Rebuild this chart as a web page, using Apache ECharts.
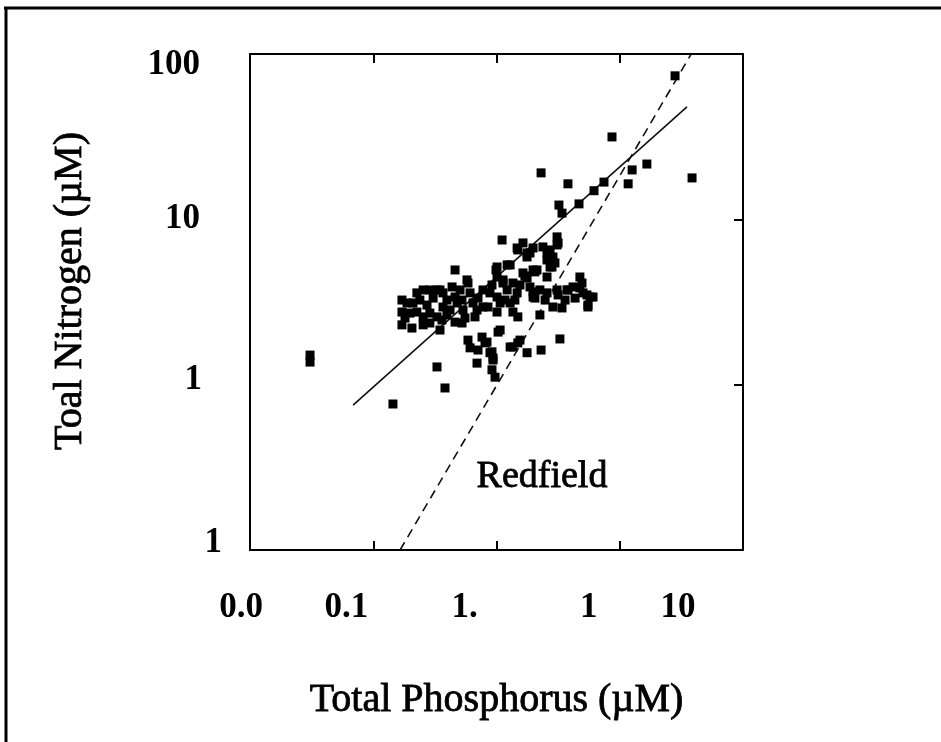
<!DOCTYPE html>
<html>
<head>
<meta charset="utf-8">
<script src="https://cdn.jsdelivr.net/npm/echarts@6/dist/echarts.min.js"></script>
<style>
  html, body { margin: 0; padding: 0; background: #fff; overflow: hidden; }
  #chart { width: 941px; height: 742px; }
</style>
</head>
<body>
<div id="chart"></div>
<script>
// tick labels as printed in the figure (decades 0.001 .. 10 and 0.1 .. 100)
var xTickLabels = ['0.0', '0.1', '1.', '1', '10'];
var yTickLabels = ['1', '1', '10', '100'];

// measured samples: [total P, total N] in µM
var samples = [
    [2.81, 73.8], [0.865, 31.5], [3.86, 17.8], [1.66, 21.6], [1.26, 19.9], [1.17, 16.4],
    [0.230, 19.1], [0.380, 16.4], [0.745, 16.8], [0.618, 14.9], [0.467, 12.4], [0.321, 12.2],
    [0.340, 10.9], [0.111, 7.50], [0.310, 7.83], [0.310, 7.00], [0.257, 6.26], [0.282, 5.68],
    [0.198, 6.71], [0.149, 6.53], [0.177, 6.26], [0.282, 5.15], [0.122, 5.30], [0.0991, 4.94],
    [0.0461, 4.94], [0.198, 4.94], [0.170, 4.54], [0.101, 4.48], [0.113, 4.30], [0.0576, 4.30],
    [0.475, 4.48], [0.475, 3.85], [0.542, 3.49], [0.607, 3.39], [0.552, 2.95], [0.380, 3.74],
    [0.316, 3.49], [0.225, 3.74], [0.257, 3.59], [0.198, 3.39], [0.287, 2.95], [0.340, 2.91],
    [0.225, 2.64], [0.149, 2.57], [0.103, 2.08], [0.0587, 1.86], [0.0610, 1.67], [0.0837, 1.81],
    [0.0919, 1.58], [0.0708, 1.62], [0.0937, 1.41], [0.0695, 1.35], [0.0919, 1.23], [0.0973, 1.11],
    [0.136, 1.69], [0.155, 1.86], [0.177, 1.56], [0.230, 1.62], [0.327, 1.89], [0.0329, 1.28],
    [0.0382, 0.955], [0.01445, 0.764], [0.00307, 1.51], [0.00307, 1.37],
    [0.0171, 3.25], [0.0171, 2.75], [0.0171, 2.30], [0.0206, 2.20], [0.0188, 3.12], [0.0210, 3.12],
    [0.0226, 3.59], [0.0254, 3.74], [0.0288, 3.74], [0.0329, 3.74], [0.0199, 2.71], [0.0226, 2.75],
    [0.0254, 2.57], [0.0288, 2.71], [0.0329, 2.57], [0.0254, 2.30], [0.0288, 2.36], [0.0368, 2.95],
    [0.0396, 3.25], [0.0348, 3.74], [0.0368, 3.59], [0.0436, 3.90], [0.0461, 3.39], [0.0479, 3.12],
    [0.0525, 3.25], [0.0535, 2.83], [0.0587, 4.12], [0.0610, 3.59], [0.0645, 3.12], [0.0695, 2.83],
    [0.0461, 2.39], [0.0525, 2.36], [0.0361, 2.46], [0.0348, 2.14], [0.0669, 2.57], [0.0777, 3.74],
    [0.0885, 3.59], [0.0777, 2.95], [0.0853, 2.95], [0.101, 3.39], [0.107, 3.12], [0.101, 2.75],
    [0.113, 4.12], [0.122, 3.74], [0.129, 3.12], [0.136, 2.75], [0.136, 4.12], [0.147, 3.59],
    [0.164, 4.74], [0.177, 4.42], [0.205, 4.81], [0.187, 3.90], [0.198, 3.64], [0.205, 3.34],
    [0.310, 3.74], [0.257, 4.48], [0.177, 5.92], [0.187, 6.26], [0.238, 6.81], [0.272, 6.53],
    [0.287, 5.92], [0.298, 5.45], [0.257, 5.68], [0.272, 5.15], [0.316, 7.20], [0.147, 6.71],
    [0.164, 7.20], [0.101, 5.15], [0.129, 5.30], [0.213, 4.94], [0.373, 3.74], [0.418, 3.90],
    [0.494, 4.12], [0.503, 3.59], [0.574, 3.39], [0.552, 3.03], [0.129, 1.69], [0.149, 1.79],
    [0.107, 2.14], [0.0763, 1.94], [0.0807, 1.79], [0.0885, 1.56], [0.0937, 1.45],
    [0.0239, 3.25], [0.0273, 3.03], [0.0306, 3.34], [0.0420, 2.83], [0.0506, 3.74], [0.0708, 3.34],
    [0.0919, 4.01], [0.117, 3.25], [0.141, 3.25], [0.155, 4.01], [0.248, 3.25], [0.360, 3.25],
    [0.434, 3.34], [0.0181, 2.53], [0.0396, 2.64], [0.0555, 2.53]
];

// fitted regression line and the Redfield ratio line (end points)
var fitLine = [[0.00686, 0.753], [3.51, 47.9]];
var redfieldLine = [[0.0165, 0.1], [3.8, 100]];

var serif = 'Liberation Serif';

var chart = echarts.init(document.getElementById('chart'));

function xLabel(value) {
    var i = Math.round(Math.log10(value)) + 3;
    return '{x' + i + '|' + xTickLabels[i] + '}';
}

function yLabel(value) {
    var i = Math.round(Math.log10(value)) + 1;
    return '{y' + i + '|' + yTickLabels[i] + '}';
}

var tickFont = { fontFamily: serif, fontSize: 35, fontWeight: 'bold', color: '#000' };
var titleFont = {
    fontFamily: serif, fontSize: 40, color: '#000',
    textBorderColor: '#000', textBorderWidth: 0.8
};

var option = {
    backgroundColor: '#fff',
    animation: false,
    grid: { left: 250, right: 198, top: 54, bottom: 192 },
    xAxis: [{
        type: 'log',
        logBase: 10,
        min: 0.001,
        max: 10,
        position: 'bottom',
        name: 'Total Phosphorus (µM)',
        nameLocation: 'middle',
        nameGap: 130,
        nameTextStyle: titleFont,
        axisLine: { lineStyle: { color: '#000', width: 2 } },
        axisTick: { inside: true, length: 9, lineStyle: { color: '#000', width: 2 } },
        minorTick: { show: false },
        splitLine: { show: false },
        axisLabel: {
            showMinLabel: true,
            showMaxLabel: true,
            margin: 40,
            formatter: xLabel,
            rich: {
                x0: Object.assign({ padding: [0, 18, 0, 0] }, tickFont),
                x1: Object.assign({ padding: [0, 54, 12, 0] }, tickFont),
                x2: Object.assign({ padding: [0, 64, 0, 0] }, tickFont),
                x3: Object.assign({ padding: [0, 62, 0, 0] }, tickFont),
                x4: Object.assign({ padding: [0, 130, 0, 0] }, tickFont)
            }
        }
    }, {
        type: 'log',
        logBase: 10,
        min: 0.001,
        max: 10,
        position: 'top',
        axisLine: { lineStyle: { color: '#000', width: 2 } },
        axisTick: { inside: true, length: 9, lineStyle: { color: '#000', width: 2 } },
        minorTick: { show: false },
        splitLine: { show: false },
        axisLabel: { show: false }
    }],
    yAxis: [{
        type: 'log',
        logBase: 10,
        min: 0.1,
        max: 100,
        position: 'left',
        name: 'Toal Nitrogen (µM)',
        nameLocation: 'middle',
        nameGap: 160,
        nameTextStyle: Object.assign({ padding: [0, 0, 0, 22] }, titleFont),
        axisLine: { lineStyle: { color: '#000', width: 2 } },
        axisTick: { show: false },
        minorTick: { show: false },
        splitLine: { show: false },
        axisLabel: {
            showMinLabel: true,
            showMaxLabel: true,
            margin: 28,
            formatter: yLabel,
            rich: {
                y0: Object.assign({ padding: [0, 0, 14, 0] }, tickFont),
                y1: Object.assign({ padding: [0, 20, 10, 0] }, tickFont),
                y2: Object.assign({ padding: [0, 22, 0, 0] }, tickFont),
                y3: Object.assign({ padding: [22, 22, 0, 0] }, tickFont)
            }
        }
    }, {
        type: 'log',
        logBase: 10,
        min: 0.1,
        max: 100,
        position: 'right',
        axisLine: { lineStyle: { color: '#000', width: 2 } },
        axisTick: { inside: true, length: 9, lineStyle: { color: '#000', width: 2 } },
        minorTick: { show: false },
        splitLine: { show: false },
        axisLabel: { show: false }
    }],
    series: [{
        name: 'samples',
        type: 'scatter',
        symbol: 'rect',
        symbolSize: 9,
        itemStyle: { color: '#000', opacity: 1 },
        data: samples,
        z: 3
    }, {
        name: 'fit',
        type: 'line',
        showSymbol: false,
        lineStyle: { color: '#111', width: 1.6 },
        data: fitLine,
        z: 2
    }, {
        name: 'Redfield',
        type: 'line',
        showSymbol: false,
        lineStyle: { color: '#111', width: 1.6, type: [9, 6] },
        data: redfieldLine,
        z: 2
    }],
    graphic: [{
        type: 'line',
        shape: { x1: 4, y1: 8, x2: 941, y2: 8 },
        style: { stroke: '#000', lineWidth: 3 }
    }, {
        type: 'line',
        shape: { x1: 6, y1: 7, x2: 6, y2: 742 },
        style: { stroke: '#000', lineWidth: 3 }
    }, {
        type: 'text',
        x: 542,
        y: 477,
        style: {
            text: 'Redfield',
            font: '38px "Liberation Serif"',
            fill: '#000',
            stroke: '#000',
            lineWidth: 0.8,
            textAlign: 'center',
            textVerticalAlign: 'middle'
        }
    }]
};

chart.setOption(option);
</script>
</body>
</html>
